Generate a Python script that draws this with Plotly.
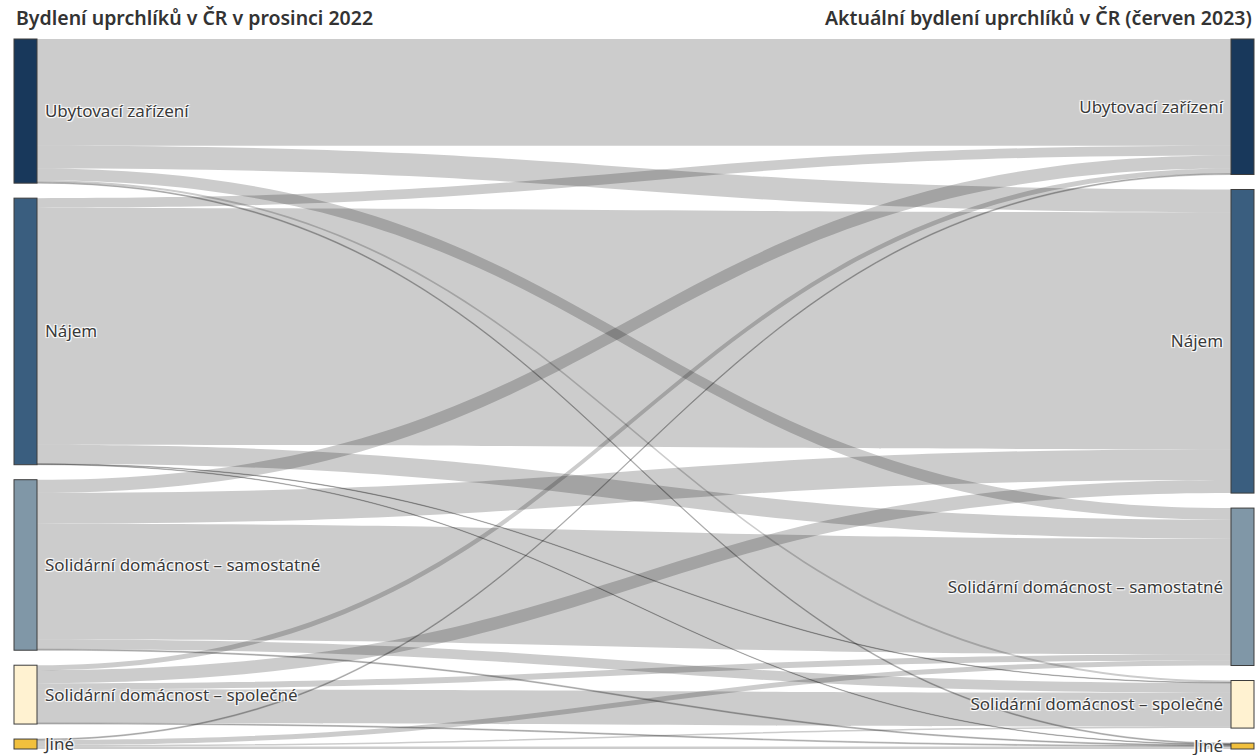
import plotly.graph_objects as go

# Categories (left = prosinec 2022, right = červen 2023)
categories = ["Ubytovací zařízení", "Nájem", "Solidární domácnost – samostatné",
              "Solidární domácnost – společné", "Jiné"]
left_title = "Bydlení uprchlíků v ČR v prosinci 2022"
right_title = "Aktuální bydlení uprchlíků v ČR (červen 2023)"

# Flow shares (%), rows = December 2022 category, columns = June 2023 category
from_ubytovaci = [16.4, 3.5, 1.8, 0.3, 0.15]
from_najem = [1.5, 36.4, 2.9, 0.08, 0.08]
from_samostatne = [2.0, 4.75, 17.8, 1.5, 0.15]
from_spolecne = [0.77, 2.0, 0.92, 5.2, 0.15]
from_jine = [0.15, 0.0, 0.77, 0.23, 0.38]

node_colors = ["#18385b", "#3a5e7f", "#8097a7", "#fff2d1", "#f1c03d"]

rows = [from_ubytovaci, from_najem, from_samostatne, from_spolecne, from_jine]
n = len(categories)
sources, targets, values = [], [], []
for i, row in enumerate(rows):
    for j, v in enumerate(row):
        if v > 0:
            sources.append(i)
            targets.append(n + j)
            values.append(v)

# layout geometry (pixels) used to keep the original node order
W, H = 1255, 755
ML, MR, MT, MB = 14, 1, 39, 6
PW, PH = W - ML - MR, H - MT - MB
PAD, THICK = 15, 23

left_tot = [sum(r) for r in rows]
right_tot = [sum(r[j] for r in rows) for j in range(n)]
ky = min((PH - (n - 1) * PAD) / sum(left_tot), (PH - (n - 1) * PAD) / sum(right_tot))


def centers(tots):
    out, y = [], 0.0
    for t in tots:
        h = t * ky
        out.append((y + h / 2) / PH)
        y += h + PAD
    return out


node_y = centers(left_tot) + centers(right_tot)
node_x = [THICK / 2 / PW] * n + [1 - THICK / 2 / PW] * n

nb = "\u00a0"
labels = [nb + c for c in categories] + [c + nb for c in categories]

fig = go.Figure(go.Sankey(
    arrangement="fixed",
    node=dict(
        label=labels,
        color=node_colors + node_colors,
        pad=PAD,
        thickness=THICK,
        x=node_x, y=node_y,
        line=dict(color="#3d3d3d", width=1),
    ),
    link=dict(source=sources, target=targets, value=values,
              color="rgba(0,0,0,0.2)"),
    textfont=dict(family="Noto Sans", size=17, color="#3a3a3a"),
))

fig.add_annotation(text=left_title, xref="paper", yref="paper", x=0, y=1 + 22 / PH,
                   xanchor="left", yanchor="middle", showarrow=False,
                   font=dict(family="Noto Sans", size=19.5, color="#333333", weight=600))
fig.add_annotation(text=right_title, xref="paper", yref="paper", x=1, y=1 + 22 / PH,
                   xanchor="right", yanchor="middle", showarrow=False,
                   font=dict(family="Noto Sans", size=19.5, color="#333333", weight=600))

fig.update_layout(
    width=W, height=H,
    margin=dict(l=ML, r=MR, t=MT, b=MB),
    paper_bgcolor="white", plot_bgcolor="white",
    font=dict(family="Noto Sans"),
)

fig.write_html("out.html", config={"displayModeBar": False},
               post_script="document.body.style.margin='0';")
